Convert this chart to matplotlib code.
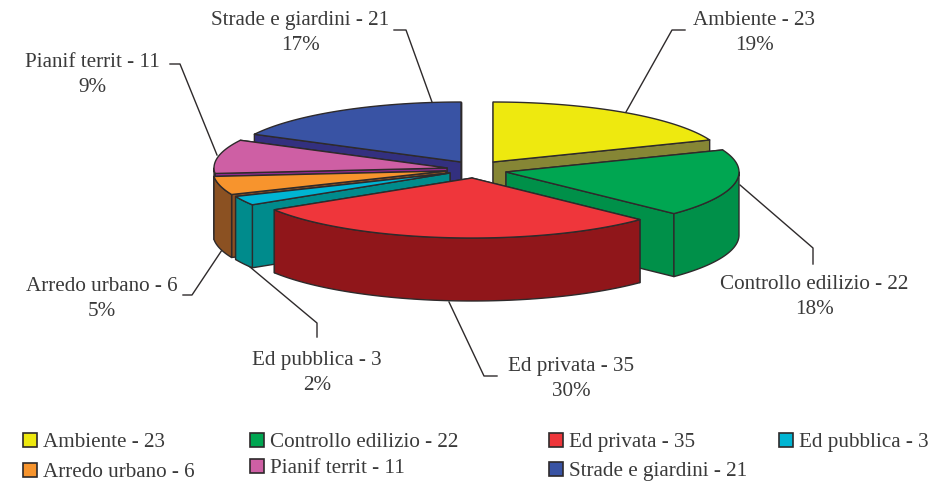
import numpy as np
import matplotlib
matplotlib.use("Agg")
import matplotlib.pyplot as plt
from matplotlib.patches import Polygon, Rectangle

plt.rcParams['font.family'] = ['Liberation Serif', 'DejaVu Serif']

categories = ["Ambiente", "Controllo edilizio", "Ed privata", "Ed pubblica",
              "Arredo urbano", "Pianif territ", "Strade e giardini"]
values = [23, 22, 35, 3, 6, 11, 21]
percent_labels = ["19%", "18%", "30%", "2%", "5%", "9%", "17%"]

top_colors = ["#EEE90F", "#00A651", "#EF363B", "#00B5D3", "#F7942D", "#CE5FA4", "#3953A4"]
side_colors = ["#868635", "#009049", "#90161A", "#008B8C", "#8B5122", "#8E2A8E", "#33307F"]
edge_color = "#2E2A2B"
text_color = "#3A3A3A"

# Pie geometry, in pixels of the picture
rx = 233
ry = 60
depth = 63
apex_x = [493, 506, 472, 450, 446, 447, 461]
apex_y = [162, 172, 178, 173, 171, 168, 162]

# back to front
draw_order = [6, 0, 5, 1, 4, 3, 2]

label_x = [754, 814, 571, 317, 102, 92, 300]
label_y = [33, 297, 379, 373, 299, 75, 33]
legend_x = [23, 250, 549, 779, 23, 250, 549]
legend_y = [440, 440, 440, 440, 470, 466, 469]

leader_x = [[626, 672, 685], [740, 813, 813], [449, 484, 497], [244, 317, 317],
            [222, 192, 183], [217, 180, 170], [432, 406, 394]]
leader_y = [[112, 30, 30], [185, 248, 264], [302, 376, 376], [262, 323, 337],
            [250, 295, 295], [155, 64, 64], [102, 30, 30]]

fig = plt.figure(figsize=(9.35, 4.84), dpi=100)
ax = fig.add_axes([0, 0, 1, 1])
ax.set_xlim(0, 935)
ax.set_ylim(484, 0)
ax.axis("off")

# Slice angles, clockwise from 12 o'clock
shares = np.array(values) / sum(values) * 2 * np.pi
ends = np.cumsum(shares)
starts = ends - shares

for i in range(len(values)):
    ax.plot(leader_x[i], leader_y[i], color=edge_color, lw=1, zorder=1)

z = 2
for i in draw_order:
    t = np.linspace(starts[i], ends[i], 80)
    xs = apex_x[i] + rx * np.sin(t)
    ys = apex_y[i] - ry * np.cos(t)
    # the two cut faces, the farther one first
    for k in sorted([0, -1], key=lambda n: ys[n]):
        face = [(apex_x[i], apex_y[i]), (xs[k], ys[k]),
                (xs[k], ys[k] + depth), (apex_x[i], apex_y[i] + depth)]
        ax.add_patch(Polygon(face, fc=side_colors[i], ec=edge_color, lw=1, joinstyle="round", zorder=z))
        z += 1
    # outer wall, only the part that faces the viewer
    lo = max(starts[i], np.pi / 2)
    hi = min(ends[i], 3 * np.pi / 2)
    if lo < hi:
        tw = np.linspace(lo, hi, 80)
        wx = apex_x[i] + rx * np.sin(tw)
        wy = apex_y[i] - ry * np.cos(tw)
        wall = np.concatenate([np.column_stack([wx, wy]),
                               np.column_stack([wx[::-1], wy[::-1] + depth])])
        ax.add_patch(Polygon(wall, fc=side_colors[i], ec=edge_color, lw=1, joinstyle="round", zorder=z))
        z += 1
    # top
    top = np.vstack([[apex_x[i], apex_y[i]], np.column_stack([xs, ys])])
    ax.add_patch(Polygon(top, fc=top_colors[i], ec=edge_color, lw=1, joinstyle="round", zorder=z))
    z += 1

# Labels
for i in range(len(values)):
    ax.text(label_x[i], label_y[i], categories[i] + " - " + str(values[i]) + "\n" + percent_labels[i],
            ha="center", va="center", fontsize=15.2, color=text_color, linespacing=1.38, zorder=z)

# Legend
for i in range(len(values)):
    ax.add_patch(Rectangle((legend_x[i], legend_y[i] - 7), 14, 14, fc=top_colors[i], ec=edge_color, lw=1.2, zorder=z))
    ax.text(legend_x[i] + 20, legend_y[i] + 7, categories[i] + " - " + str(values[i]),
            ha="left", va="baseline", fontsize=15.2, color=text_color, zorder=z)

fig.savefig("out.png", dpi=100)
